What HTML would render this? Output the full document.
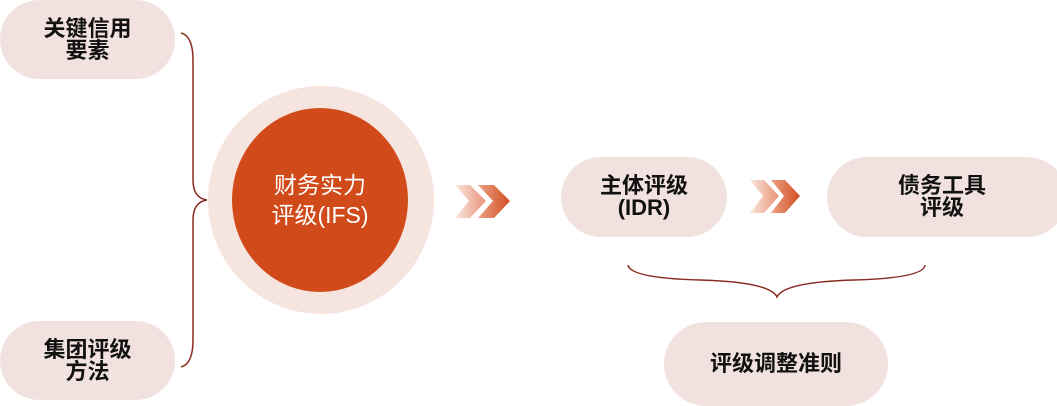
<!DOCTYPE html>
<html><head><meta charset="utf-8"><style>
body{margin:0;width:1057px;height:400px;background:#fff;position:relative;overflow:hidden;font-family:"Liberation Sans","Noto Sans CJK SC",sans-serif;}
.p{position:absolute;background:#f1e2df;border-radius:40px;display:flex;align-items:center;justify-content:center;text-align:center;font-weight:bold;font-size:22px;line-height:22px;color:#111;}
</style></head><body>
<div class="p" style="left:0;top:0;width:175px;height:79px;">关键信用<br>要素</div>
<div class="p" style="left:0;top:321px;width:175px;height:79px;">集团评级<br>方法</div>
<div class="p" style="left:561px;top:157px;width:166px;height:80px;">主体评级<br>(IDR)</div>
<div class="p" style="left:827px;top:157px;width:240px;height:80px;"><span style="margin-right:10px">债务工具<br>评级</span></div>
<div class="p" style="left:664px;top:322px;width:224px;height:84px;border-radius:42px;">评级调整准则</div>
<div style="position:absolute;left:208px;top:86px;width:226px;height:228px;border-radius:50%;background:#f6e4df;"></div>
<div style="position:absolute;left:232px;top:108px;width:176px;height:184px;border-radius:50%;background:#d04a1a;display:flex;align-items:center;justify-content:center;text-align:center;color:#fff;font-size:23px;line-height:30px;">财务实力<br>评级(IFS)</div>
<svg width="1057" height="400" style="position:absolute;left:0;top:0">
<defs>
<linearGradient id="g1" x1="0" x2="1"><stop offset="0" stop-color="#fbe6de"/><stop offset="1" stop-color="#e89479"/></linearGradient>
<linearGradient id="g2" x1="0" x2="1"><stop offset="0" stop-color="#eba085"/><stop offset="1" stop-color="#d24f22"/></linearGradient>
</defs>
<path d="M181 33 Q193 36 193 60 L193 180 Q193 198 207 200 Q193 202 193 220 L193 340 Q193 364 181 367" fill="none" stroke="#8a2a20" stroke-width="1.5"/>
<path d="M628 265 Q630 278 700 280 Q770 282 777 297 Q784 282 854 280 Q924 278 925 265" fill="none" stroke="#8a2a20" stroke-width="1.5"/>
<path d="M455 185 L470 185 L486 201 L470 218 L455 218 L469 201Z" fill="url(#g1)"/>
<path d="M478 185 L494 185 L510 201 L494 218 L478 218 L493 201Z" fill="url(#g2)"/>
<path d="M750 180 L764 180 L779 196 L764 213 L750 213 L763 196Z" fill="url(#g1)"/>
<path d="M771 180 L785 180 L800 196 L785 213 L771 213 L784 196Z" fill="url(#g2)"/>
</svg>
</body></html>
